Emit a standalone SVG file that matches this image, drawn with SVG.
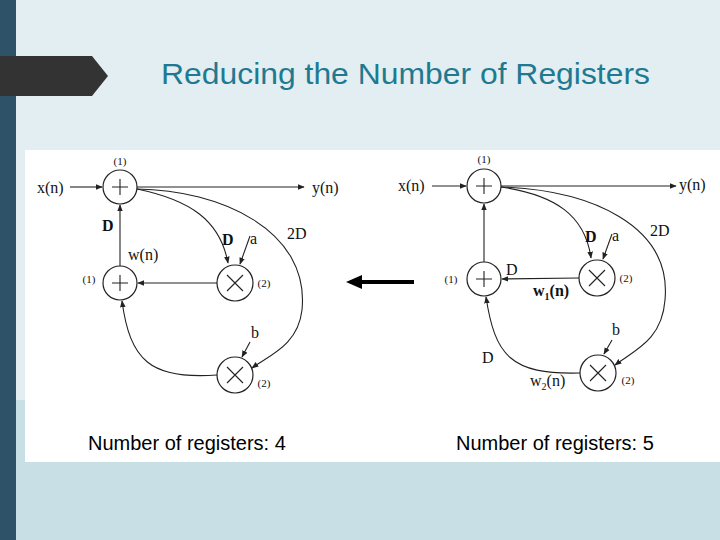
<svg xmlns="http://www.w3.org/2000/svg" width="720" height="540" viewBox="0 0 720 540">
<defs>
<marker id="ah" viewBox="0 0 10 10" refX="9" refY="5" markerWidth="7" markerHeight="7" orient="auto" markerUnits="userSpaceOnUse"><path d="M0,1 L10,5 L0,9 z" fill="#222"/></marker>
</defs>
<style>
.n{fill:#fff;stroke:#222;stroke-width:1.2}
.c{fill:none;stroke:#222;stroke-width:1.1}
.e{fill:none;stroke:#222;stroke-width:1.1;marker-end:url(#ah)}
.t{font-family:"Liberation Serif",serif;font-size:16px;fill:#111}
.s{font-family:"Liberation Serif",serif;font-size:11px;fill:#111}
.cap{font-family:"Liberation Sans",sans-serif;font-size:20px;fill:#000}
</style>
<rect width="720" height="540" fill="#e3eef2"/>
<rect x="0" y="400" width="720" height="140" fill="#c8dfe6"/>
<rect x="0" y="0" width="16" height="540" fill="#2e5368"/>
<path d="M0,56 H92 L108,76 L92,96 H0 Z" fill="#333"/>
<text x="161" y="84" font-family="Liberation Sans,sans-serif" font-size="30" fill="#1f7a91" textLength="489" lengthAdjust="spacingAndGlyphs">Reducing the Number of Registers</text>
<rect x="25" y="150" width="695" height="312" fill="#fff"/>
<g id="connectors">
<line x1="70" y1="187" x2="102" y2="187" class="e"/>
<line x1="137" y1="187" x2="304" y2="187" class="e"/>
<line x1="120" y1="267" x2="120" y2="205" class="e"/>
<line x1="217" y1="283" x2="138" y2="283" class="e"/>
<path d="M137,189 C190,200 220,220 228,263" class="e"/>
<path d="M137,189 C220,190 310,230 302,310 C298,345 270,355 252,368" class="e"/>
<line x1="250" y1="236" x2="240" y2="264" class="e"/>
<line x1="250" y1="342" x2="242" y2="357" class="e"/>
<path d="M217,375 C150,380 130,360 122,301" class="e"/>
<line x1="432" y1="186" x2="466" y2="186" class="e"/>
<line x1="501" y1="186" x2="676" y2="186" class="e"/>
<line x1="484" y1="262" x2="484" y2="204" class="e"/>
<line x1="579" y1="278" x2="502" y2="279" class="e"/>
<path d="M501,187 C555,195 585,215 591,258" class="e"/>
<path d="M501,187 C590,190 672,225 665,300 C662,340 635,350 615,365" class="e"/>
<line x1="612" y1="234" x2="603" y2="259" class="e"/>
<line x1="612" y1="340" x2="604" y2="354" class="e"/>
<path d="M580,373 C510,375 495,355 486,297" class="e"/>
<line x1="414" y1="282" x2="360" y2="282" stroke="#000" stroke-width="4"/>
<polygon points="346,282 362,275 362,289" fill="#000"/>
</g>
<g id="L_add1"><circle cx="120" cy="187" r="17" class="n"/><path d="M112,187 H128 M120,179 V195" class="c"/><text x="120" y="165" class="s" text-anchor="middle">(1)</text></g>
<g id="L_add2"><circle cx="120" cy="283" r="17" class="n"/><path d="M112,283 H128 M120,275 V291" class="c"/><text x="89" y="283" class="s" text-anchor="middle">(1)</text></g>
<g id="L_mula"><circle cx="235" cy="283" r="18" class="n"/><path d="M227,275 L243,291 M243,275 L227,291" class="c"/><text x="264" y="287" class="s" text-anchor="middle">(2)</text></g>
<g id="L_mulb"><circle cx="235" cy="375" r="18" class="n"/><path d="M227,367 L243,383 M243,367 L227,383" class="c"/><text x="264" y="387" class="s" text-anchor="middle">(2)</text></g>
<g id="L_labels">
<text x="37" y="193" class="t">x(n)</text><text x="312" y="193" class="t">y(n)</text>
<text x="102" y="231" class="t" font-weight="bold">D</text>
<text x="128" y="260" class="t">w(n)</text>
<text x="222" y="245" class="t" font-weight="bold">D</text><text x="250" y="244" class="t">a</text>
<text x="287" y="239" class="t">2D</text>
<text x="251" y="338" class="t">b</text>
</g>
<g id="R_add1"><circle cx="484" cy="186" r="17" class="n"/><path d="M476,186 H492 M484,178 V194" class="c"/><text x="484" y="163" class="s" text-anchor="middle">(1)</text></g>
<g id="R_add2"><circle cx="484" cy="279" r="17" class="n"/><path d="M476,279 H492 M484,271 V287" class="c"/><text x="451" y="283" class="s" text-anchor="middle">(1)</text></g>
<g id="R_mula"><circle cx="597" cy="278" r="18" class="n"/><path d="M589,270 L605,286 M605,270 L589,286" class="c"/><text x="626" y="282" class="s" text-anchor="middle">(2)</text></g>
<g id="R_mulb"><circle cx="598" cy="373" r="18" class="n"/><path d="M590,365 L606,381 M606,365 L590,381" class="c"/><text x="628" y="384" class="s" text-anchor="middle">(2)</text></g>
<g id="R_labels">
<text x="398" y="191" class="t">x(n)</text><text x="679" y="190" class="t">y(n)</text>
<text x="585" y="242" class="t" font-weight="bold">D</text><text x="612" y="241" class="t">a</text>
<text x="650" y="236" class="t">2D</text>
<text x="506" y="275" class="t">D</text>
<text x="533" y="296" class="t" font-weight="bold">w<tspan font-size="10" dy="4">1</tspan><tspan dy="-4">(n)</tspan></text>
<text x="612" y="335" class="t">b</text>
<text x="482" y="363" class="t">D</text>
<text x="530" y="386" class="t">w<tspan font-size="10" dy="4">2</tspan><tspan dy="-4">(n)</tspan></text>
</g>
<text x="88" y="450" class="cap">Number of registers: 4</text>
<text x="456" y="450" class="cap">Number of registers: 5</text>
</svg>
